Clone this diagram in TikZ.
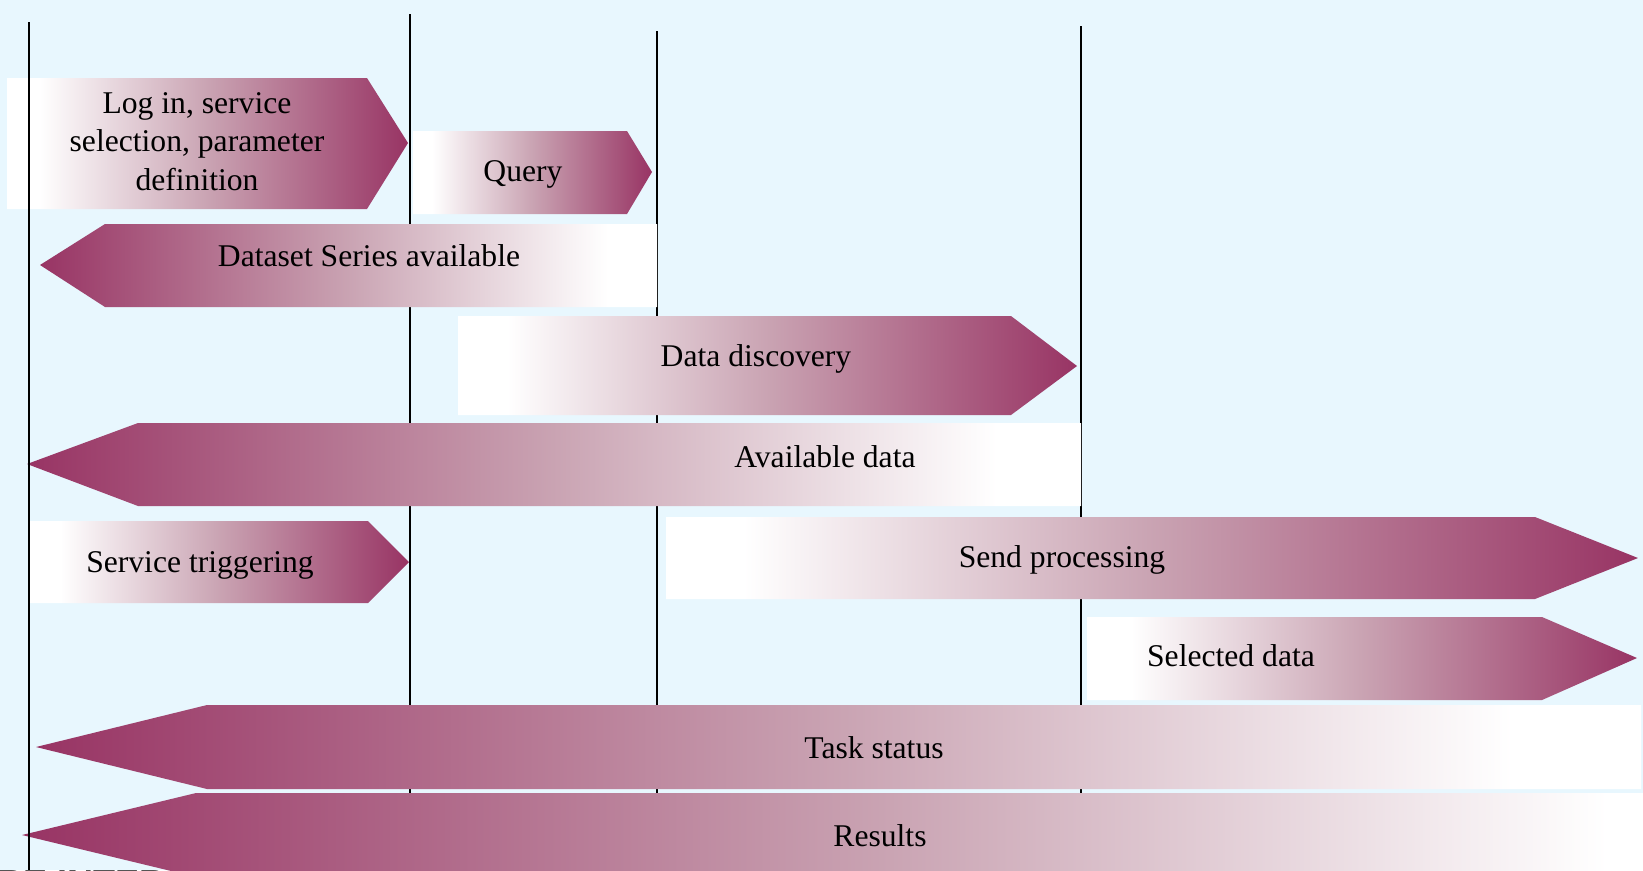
\documentclass[tikz,border=0pt]{standalone}
\usepackage{fontspec}
\setmainfont{Liberation Serif}
\newfontfamily\footfont{Liberation Sans}

\definecolor{bg}{RGB}{232,247,254}

% white -> plum, left to right (plum at the right end)
\pgfdeclarehorizontalshading{towardright}{100bp}{%
  rgb(0bp)=(1,1,1); rgb(29bp)=(1,1,1);
  rgb(50bp)=(0.79,0.64,0.70);
  rgb(75bp)=(0.596,0.204,0.392); rgb(100bp)=(0.596,0.204,0.392)}
% plum -> white, left to right (plum at the left end)
\pgfdeclarehorizontalshading{towardleft}{100bp}{%
  rgb(0bp)=(0.596,0.204,0.392); rgb(25bp)=(0.596,0.204,0.392);
  rgb(50bp)=(0.79,0.64,0.70);
  rgb(71bp)=(1,1,1); rgb(100bp)=(1,1,1)}

\tikzset{
  rarrow/.style={shading=towardright},
  larrow/.style={shading=towardleft},
  lbl/.style={font=\fontsize{18}{21.9}\selectfont, inner sep=0pt,
              text height=12.6pt, text depth=3.6pt},
  multilbl/.style={font=\fontsize{18}{21.9}\selectfont, inner sep=0pt, align=center},
  lifeline/.style={draw=black, line width=1pt},
}

\begin{document}
\begin{tikzpicture}[x=0.02cm, y=-0.02cm]
  \useasboundingbox (0,0) rectangle (1643,870);
  \fill[bg] (0,0) rectangle (1643,870);

  % lifeline end points
  \coordinate (t1) at (29,22);   \coordinate (b1) at (29,870);
  \coordinate (t2) at (410,14);  \coordinate (b2) at (410,870);
  \coordinate (t3) at (657,31);  \coordinate (b3) at (657,870);
  \coordinate (t4) at (1081,26); \coordinate (b4) at (1081,870);

  % lifelines lying behind the messages
  \draw[lifeline] (t2) -- (b2);
  \draw[lifeline] (t3) -- (b3);
  \draw[lifeline] (t4) -- (b4);

  % message arrows
  \shade[rarrow] (7,78) -- (367,78) -- (408,143) -- (367,209) -- (7,209) -- cycle;
  \node[multilbl] (login) at (197,141.5) {Log in, service\\selection, parameter\\definition};

  \shade[rarrow] (413,131) -- (627,131) -- (652,172) -- (627,214) -- (413,214) -- cycle;
  \node[lbl] (query) at (523,174) {Query};

  \shade[larrow] (40,265) -- (105,224) -- (657,224) -- (657,307) -- (105,307) -- cycle;
  \node[lbl] (series) at (369,259) {Dataset Series available};

  \shade[rarrow] (458,316) -- (1011,316) -- (1077,366) -- (1011,415) -- (458,415) -- cycle;
  \node[lbl] (discovery) at (756,359) {Data discovery};

  \shade[larrow] (27,464) -- (138,423) -- (1081,423) -- (1081,506) -- (138,506) -- cycle;
  \node[lbl] (available) at (825,460) {Available data};

  \shade[rarrow] (30,521) -- (368,521) -- (409,562) -- (368,603) -- (30,603) -- cycle;
  \node[lbl] (trigger) at (200,565) {Service triggering};

  \shade[rarrow] (666,517) -- (1535,517) -- (1638,558) -- (1535,599) -- (666,599) -- cycle;
  \node[lbl] (sendproc) at (1062,560) {Send processing};

  \shade[rarrow] (1087,617) -- (1542,617) -- (1637,658) -- (1542,700) -- (1087,700) -- cycle;
  \node[lbl] (selected) at (1231,659) {Selected data};

  \shade[larrow] (36,747) -- (207,705) -- (1641,705) -- (1641,789) -- (207,789) -- cycle;
  \node[lbl] (status) at (874,751) {Task status};

  \shade[larrow] (22,835) -- (196,793) -- (1745,793) -- (1745,877) -- (196,877) -- cycle;
  \node[lbl] (results) at (880,839) {Results};

  % footer caption, cut by the page edge
  \begin{scope}
    \clip (0,0) rectangle (1643,870);
    \node[anchor=base west, inner sep=0pt, text=black!85,
          font=\footfont\bfseries\fontsize{20.5}{24}\selectfont] (footer) at (-3,895) {RE INTER};
  \end{scope}

  % leftmost lifeline drawn over everything
  \draw[lifeline] (t1) -- (b1);
\end{tikzpicture}
\end{document}
